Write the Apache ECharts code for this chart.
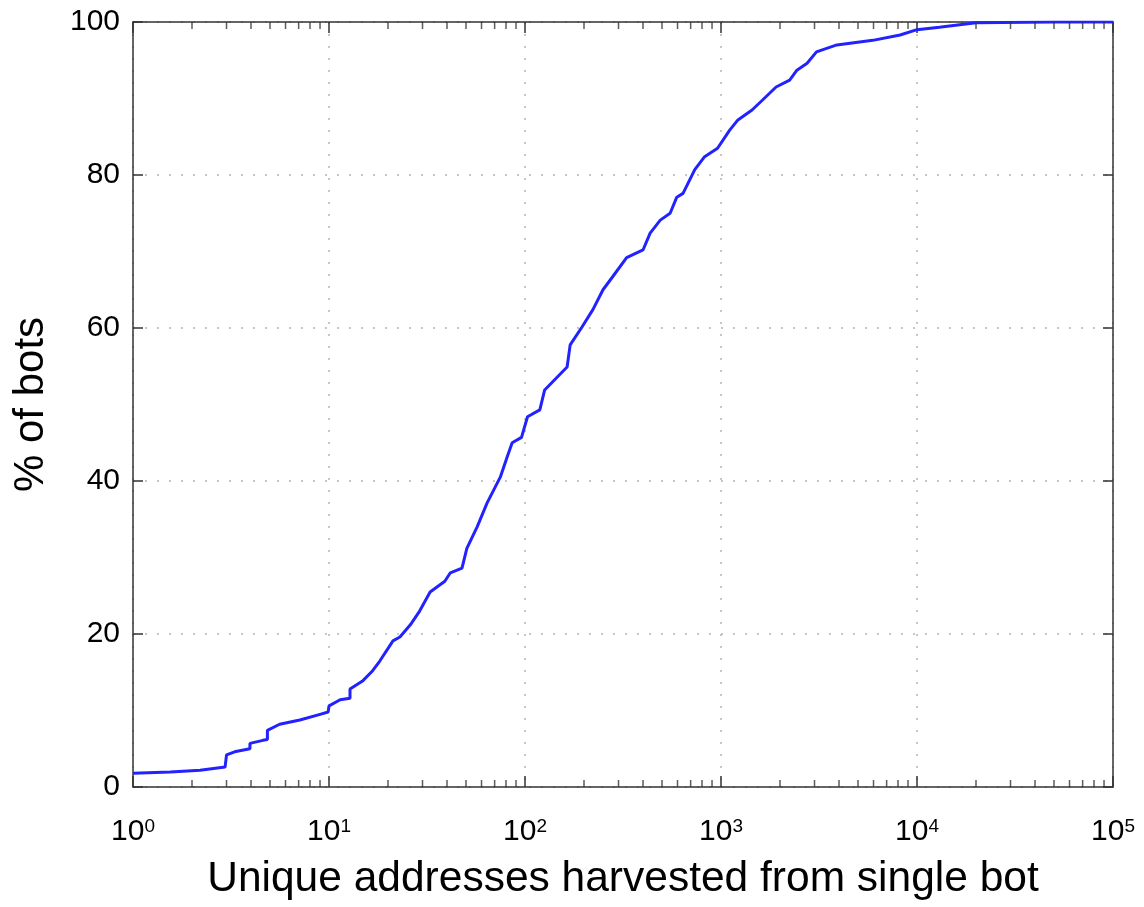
<!DOCTYPE html>
<html>
<head>
<meta charset="utf-8">
<script src="https://cdn.jsdelivr.net/npm/echarts@6/dist/echarts.min.js"></script>
<style>
html,body{margin:0;padding:0;background:#fff;}
#chart{width:1144px;height:907px;}
</style>
</head>
<body>
<div id="chart"></div>
<script>
// Unique addresses harvested (x) vs cumulative % of bots (y)
const addresses = [1, 1.55, 2.2, 2.95, 3, 3.3, 3.95, 3.95, 4.6, 4.85, 4.85, 5.6, 7.1, 9, 9.9, 10, 11.4, 12.8, 12.8, 14.9, 16.7, 18.2, 21.2, 23, 26, 29, 32.8, 39, 41.6, 47.7, 50.5, 57, 64, 74.8, 81, 86, 96, 103, 119, 126, 145, 164, 170, 195, 222, 250, 280, 330, 400, 435, 490, 550, 595, 640, 735, 825, 960, 1110, 1220, 1440, 1630, 1910, 2240, 2440, 2750, 3070, 3900, 5950, 8200, 10000, 13000, 20000, 50000, 100000];
const pctBots = [1.8, 1.95, 2.2, 2.6, 4.2, 4.6, 5.0, 5.7, 6.1, 6.2, 7.4, 8.2, 8.75, 9.5, 9.8, 10.6, 11.4, 11.6, 12.8, 13.9, 15.2, 16.5, 19.1, 19.6, 21.2, 23.0, 25.5, 26.9, 28.0, 28.6, 31.2, 34.0, 37.1, 40.5, 43.1, 45.0, 45.7, 48.4, 49.3, 51.9, 53.5, 54.9, 57.8, 60.1, 62.4, 65.0, 66.7, 69.2, 70.2, 72.4, 74.1, 75.0, 77.1, 77.6, 80.7, 82.4, 83.5, 85.9, 87.2, 88.5, 89.8, 91.5, 92.4, 93.7, 94.6, 96.1, 97.0, 97.6, 98.3, 99.0, 99.3, 99.9, 100, 100];
const yTicks = [0, 20, 40, 60, 80, 100];
const minorTickValues = [2,3,4,5,6,7,8,9, 20,30,40,50,60,70,80,90, 200,300,400,500,600,700,800,900, 2000,3000,4000,5000,6000,7000,8000,9000, 20000,30000,40000,50000,60000,70000,80000,90000];

const FONT = "'Liberation Sans', Arial, Helvetica, sans-serif";
const chart = echarts.init(document.getElementById('chart'), null, {renderer: 'canvas'});

const lineData = addresses.map((x, i) => [x, pctBots[i]]);
const minorBottom = minorTickValues.map(v => [v, 0]);
const minorTop = minorTickValues.map(v => [v, 100]);

const axisLineStyle = {color: '#333', width: 1.5};
const gridLine = {show: true, lineStyle: {color: '#b4b4b4', type: [2, 10], width: 1.5}};

const xLabel = {
  fontFamily: FONT, color: '#000', margin: 30,
  formatter: v => '{b|10}{s|' + Math.round(Math.log10(v)) + '}',
  rich: {
    b: {fontFamily: FONT, fontSize: 30, lineHeight: 30, verticalAlign: 'bottom', color: '#000'},
    s: {fontFamily: FONT, fontSize: 19, lineHeight: 19, verticalAlign: 'top', padding: [0, 0, 16, 0], color: '#000'}
  }
};

chart.setOption({
  animation: false,
  backgroundColor: '#fff',
  grid: {left: 133, right: 31, top: 22, bottom: 120, containLabel: false},
  xAxis: [
    {
      type: 'log', logBase: 10, min: 1, max: 100000, position: 'bottom',
      name: 'Unique addresses harvested from single bot',
      nameLocation: 'middle', nameGap: 71,
      nameTextStyle: {fontFamily: FONT, fontSize: 42.5, color: '#000'},
      axisLine: {show: true, onZero: false, lineStyle: axisLineStyle},
      axisTick: {show: true, inside: true, length: 11, lineStyle: axisLineStyle},
      axisLabel: xLabel,
      splitLine: gridLine
    },
    {
      type: 'log', logBase: 10, min: 1, max: 100000, position: 'top',
      axisLine: {show: true, onZero: false, lineStyle: axisLineStyle},
      axisTick: {show: true, inside: true, length: 11, lineStyle: axisLineStyle},
      axisLabel: {show: false},
      splitLine: {show: false}
    }
  ],
  yAxis: [
    {
      type: 'value', min: 0, max: 100, interval: 20, position: 'left',
      name: '% of bots', nameLocation: 'middle', nameGap: 81,
      nameTextStyle: {fontFamily: FONT, fontSize: 42, color: '#000'},
      axisLine: {show: true, onZero: false, lineStyle: axisLineStyle},
      axisTick: {show: true, inside: true, length: 10, lineStyle: axisLineStyle},
      axisLabel: {fontFamily: FONT, fontSize: 30, color: '#000', margin: 13,
        formatter: v => yTicks.includes(v) ? String(v) : ''},
      splitLine: gridLine
    },
    {
      type: 'value', min: 0, max: 100, interval: 20, position: 'right',
      axisLine: {show: true, onZero: false, lineStyle: axisLineStyle},
      axisTick: {show: true, inside: true, length: 10, lineStyle: axisLineStyle},
      axisLabel: {show: false},
      splitLine: {show: false}
    }
  ],
  series: [
    {
      type: 'line', xAxisIndex: 0, yAxisIndex: 0, data: lineData,
      showSymbol: false, symbol: 'none', smooth: false,
      lineStyle: {color: '#2222ff', width: 3},
      z: 5
    },
    {
      type: 'scatter', xAxisIndex: 0, yAxisIndex: 0, data: minorBottom,
      symbol: 'rect', symbolSize: [1.5, 7], symbolOffset: [0, -3.5],
      itemStyle: {color: '#333'}, silent: true, clip: false, z: 6
    },
    {
      type: 'scatter', xAxisIndex: 0, yAxisIndex: 0, data: minorTop,
      symbol: 'rect', symbolSize: [1.5, 7], symbolOffset: [0, 3.5],
      itemStyle: {color: '#333'}, silent: true, clip: false, z: 6
    }
  ]
});
</script>
</body>
</html>
